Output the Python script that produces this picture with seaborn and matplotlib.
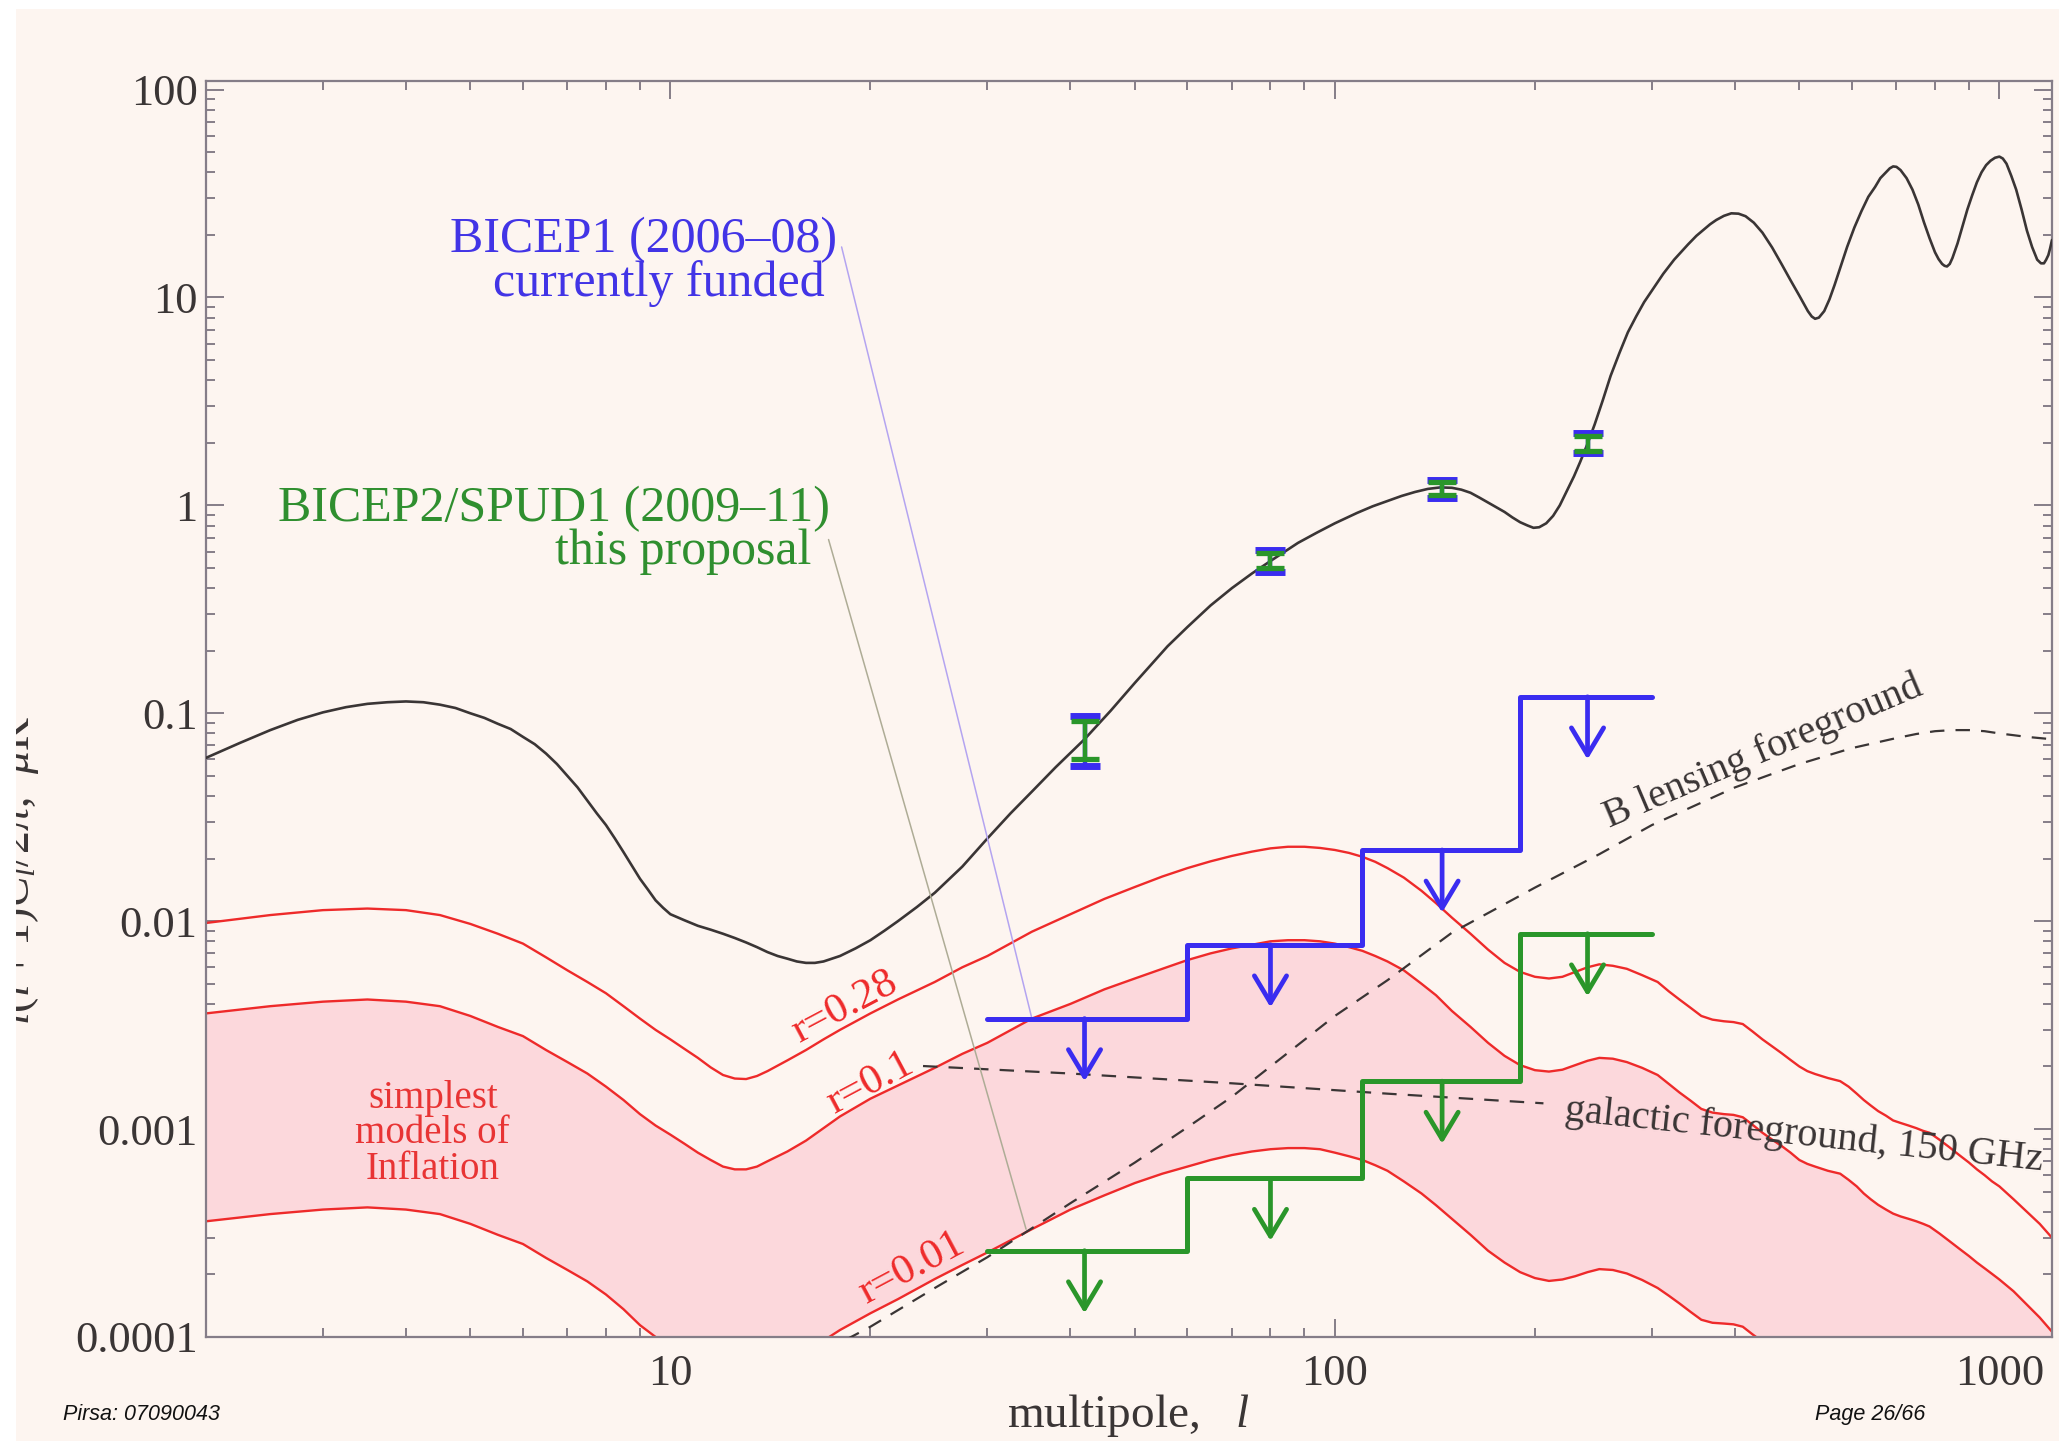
import numpy as np
import matplotlib
matplotlib.use("Agg")
import matplotlib.pyplot as plt
import seaborn as sns
from matplotlib.patches import Rectangle
from matplotlib.ticker import FixedLocator, FixedFormatter, LogLocator, NullFormatter

# ---------------- data ----------------
# CMB spectrum (black curve)
cmb_ell = [2, 2.25, 2.5, 2.75, 3, 3.25, 3.5, 3.75, 4, 4.25, 4.5, 4.75, 5, 5.25, 5.5, 5.75, 6,
           6.25, 6.5, 6.75, 7, 7.25, 7.5, 7.75, 8, 8.25, 8.5, 8.75, 9, 9.25, 9.5, 9.75, 10,
           10.5, 11, 11.5, 12, 12.5, 13, 13.5, 14, 14.5, 15, 15.5, 16, 16.5, 17, 17.5, 18, 19,
           20, 21, 22, 23.5, 25, 27.5, 30, 32.5, 35, 38, 42, 46, 50, 56, 60, 65, 70, 75, 80, 88,
           94, 100, 108, 114, 120, 126, 132, 138, 144, 150, 155, 160, 165, 172, 180, 185, 190,
           195, 199, 203, 208, 213, 218, 223, 229, 234, 240, 246, 253, 260, 268, 276, 284, 292,
           300, 312, 324, 340, 350, 359, 367, 375, 385, 395, 405, 415, 427, 440, 455, 470, 485,
           500, 508, 515, 522, 528, 535, 545, 555, 565, 577, 590, 605, 620, 635, 650, 662, 675,
           684, 692, 700, 710, 725, 740, 755, 770, 785, 800, 810, 820, 827, 834, 842, 850, 865,
           880, 895, 910, 925, 940, 955, 970, 985, 1000, 1012, 1025, 1042, 1060, 1080, 1100,
           1120, 1140, 1155, 1167, 1176, 1185, 1192, 1200]
cmb_power = [0.061, 0.072, 0.083, 0.093, 0.101, 0.107, 0.111, 0.113, 0.114, 0.113, 0.110, 0.106,
             0.100, 0.095, 0.089, 0.084, 0.077, 0.071, 0.064, 0.057, 0.050, 0.044, 0.038, 0.033,
             0.029, 0.025, 0.0215, 0.0185, 0.016, 0.0142, 0.0126, 0.0116, 0.0108, 0.0101, 0.0095,
             0.0091, 0.0087, 0.0083, 0.0079, 0.0075, 0.0071, 0.0068, 0.0066, 0.0064, 0.0063,
             0.0063, 0.0064, 0.0066, 0.0068, 0.0074, 0.0081, 0.0090, 0.0100, 0.0117, 0.0137,
             0.0183, 0.025, 0.033, 0.042, 0.055, 0.075, 0.103, 0.140, 0.21, 0.26, 0.33, 0.40,
             0.47, 0.54, 0.66, 0.74, 0.82, 0.92, 0.99, 1.05, 1.11, 1.16, 1.20, 1.22, 1.215, 1.19,
             1.15, 1.09, 1.01, 0.93, 0.875, 0.83, 0.80, 0.78, 0.785, 0.82, 0.89, 1.00, 1.16, 1.38,
             1.62, 1.98, 2.45, 3.2, 4.2, 5.4, 6.8, 8.1, 9.5, 10.8, 13.0, 15.2, 18.0, 19.8, 21.2,
             22.5, 23.6, 24.7, 25.4, 25.3, 24.6, 22.9, 20.5, 17.4, 14.5, 12.1, 10.2, 9.3, 8.6, 8.1,
             7.9, 8.0, 8.6, 9.8, 11.5, 14.1, 17.5, 21.7, 26, 30.5, 34, 37.5, 40, 41.8, 42.7, 42.5,
             41, 37.5, 33, 28, 23, 19.3, 16.5, 15.3, 14.5, 14.2, 14.1, 14.5, 15.5, 18.2, 22, 26.5,
             31, 35.8, 40, 43.3, 45.5, 47, 47.6, 46.6, 44, 38.5, 33, 26.5, 21, 17.5, 15.2, 14.6,
             14.6, 15.2, 16, 17.2, 18.9]

# tensor B-mode spectra for three values of r
tensor_ell = [2, 2.5, 3, 3.5, 4, 4.5, 5, 5.5, 6, 6.5, 7, 7.5, 8, 8.5, 9, 9.5, 10, 10.5, 11, 11.5,
              12, 12.5, 13, 13.5, 14, 15, 16, 17, 18, 20, 22, 25, 27.5, 30, 35, 40, 45, 50, 55,
              60, 65, 70, 75, 80, 85, 90, 95, 100, 105, 110, 115, 120, 127, 135, 142, 150, 160,
              170, 180, 190, 200, 210, 220, 230, 240, 250, 262, 275, 290, 306, 318, 330, 343, 356,
              370, 385, 398, 411, 425, 440, 455, 470, 485, 500, 514, 528, 552, 576, 593, 610, 625,
              640, 657, 675, 692, 710, 730, 750, 768, 785, 812, 840, 870, 900, 925, 950, 975, 1000,
              1050, 1100, 1150, 1200]
tensor_r028 = [0.0098, 0.0107, 0.0113, 0.0115, 0.0113, 0.0107, 0.0097, 0.0087, 0.0078, 0.0067,
               0.0058, 0.0051, 0.0045, 0.0039, 0.0034, 0.0030, 0.0027, 0.00243, 0.0022, 0.00198,
               0.00182, 0.00175, 0.00174, 0.0018, 0.0019, 0.00214, 0.0024, 0.0027, 0.0030,
               0.0036, 0.0042, 0.0051, 0.0060, 0.0068, 0.0089, 0.0108, 0.0128, 0.0146, 0.0164,
               0.0180, 0.0194, 0.0206, 0.0216, 0.0224, 0.0228, 0.0228, 0.0225, 0.0220, 0.0213,
               0.0204, 0.0193, 0.0180, 0.0162, 0.0140, 0.0122, 0.0104, 0.0087, 0.0073, 0.0063,
               0.0057, 0.0054, 0.0053, 0.0054, 0.0057, 0.0060, 0.0062, 0.0061, 0.0059, 0.0055,
               0.0051, 0.0046, 0.0042, 0.00383, 0.0035, 0.00336, 0.0033, 0.00327, 0.0032, 0.00295,
               0.0027, 0.0025, 0.00232, 0.00215, 0.0020, 0.0019, 0.00184, 0.00176, 0.0017, 0.0016,
               0.00148, 0.00138, 0.0013, 0.00122, 0.00116, 0.0011, 0.00107, 0.00104, 0.00101,
               0.00098, 0.00096, 0.00089, 0.00082, 0.00075, 0.00069, 0.00064, 0.0006, 0.00056,
               0.00053, 0.00046, 0.0004, 0.00035, 0.0003]
tensor_r010 = [0.0036, 0.0039, 0.0041, 0.0042, 0.0041, 0.0039, 0.0035, 0.0031, 0.0028, 0.0024,
               0.0021, 0.00185, 0.0016, 0.00138, 0.00118, 0.00104, 0.00094, 0.00085, 0.00077,
               0.00071, 0.00066, 0.00064, 0.00064, 0.00066, 0.00070, 0.00078, 0.00088, 0.00101,
               0.00115, 0.00140, 0.00162, 0.00197, 0.0023, 0.0026, 0.0034, 0.0040, 0.0047, 0.0053,
               0.0059, 0.0065, 0.0070, 0.0074, 0.0077, 0.0080, 0.0081, 0.0081, 0.0080, 0.0078,
               0.0075, 0.0072, 0.0068, 0.0064, 0.0058, 0.0050, 0.0044, 0.0037, 0.0031, 0.0026,
               0.00225, 0.00203, 0.00192, 0.00189, 0.00193, 0.00203, 0.00213, 0.0022, 0.00218,
               0.0021, 0.00197, 0.00182, 0.00165, 0.0015, 0.00137, 0.00125, 0.0012, 0.00118,
               0.00117, 0.00114, 0.00105, 0.00096, 0.00089, 0.00083, 0.00077, 0.00071, 0.00068,
               0.00066, 0.00063, 0.00061, 0.00057, 0.00053, 0.00049, 0.00046, 0.000432, 0.00041,
               0.000392, 0.00038, 0.00037, 0.00036, 0.00035, 0.00034, 0.000315, 0.00029,
               0.000266, 0.000245, 0.000228, 0.000214, 0.000201, 0.000189, 0.000166, 0.000143,
               0.000124, 0.000106]
tensor_r001 = [0.00036, 0.00039, 0.00041, 0.00042, 0.00041, 0.00039, 0.00035, 0.00031, 0.00028,
               0.00024, 0.00021, 0.000185, 0.00016, 0.000136, 0.000114, 0.0001, 0.00009,
               0.000082, 0.000075, 0.00007, 0.000066, 0.000064, 0.000064, 0.000065, 0.000068,
               0.000076, 0.000085, 0.000096, 0.000108, 0.00013, 0.000152, 0.00019, 0.000222,
               0.000255, 0.00033, 0.00041, 0.00048, 0.00055, 0.00061, 0.00066, 0.00071, 0.00075,
               0.00078, 0.0008, 0.00081, 0.00081, 0.0008, 0.00077, 0.00074, 0.00071, 0.00067,
               0.00063, 0.00056, 0.00049, 0.00043, 0.00037, 0.00031, 0.00026, 0.000228, 0.000205,
               0.000192, 0.000186, 0.000189, 0.000196, 0.000205, 0.000212, 0.00021, 0.000202,
               0.000188, 0.000172, 0.000158, 0.000145, 0.000132, 0.000121, 0.000117, 0.000116,
               0.000115, 0.000112, 0.000103, 0.000095, 0.000088, 0.000082, 0.000076, 0.00007,
               0.000067, 0.000065, 0.000062, 0.00006, 0.000056, 0.000052, 0.000049, 0.000046,
               0.000043, 0.000041, 0.000039, 0.000038, 0.000037, 0.000036, 0.000035, 0.000034,
               0.0000315, 0.000029, 0.0000266, 0.000024, 0.0000228, 0.000021, 0.00002, 0.000019,
               0.0000166, 0.0000143, 0.0000124, 0.0000106]

# lensing B-mode foreground
lensing_ell = [17, 20, 25, 30, 40, 50, 60, 70, 80, 100, 120, 150, 200, 250, 300, 400, 500, 600,
               700, 750, 800, 850, 900, 950, 1000, 1100, 1200]
lensing_power = [0.000085, 0.000112, 0.000172, 0.000242, 0.00044, 0.00069, 0.00102, 0.00143,
                 0.0020, 0.0035, 0.0052, 0.0088, 0.0145, 0.021, 0.029, 0.044, 0.057, 0.068,
                 0.076, 0.0795, 0.082, 0.083, 0.083, 0.082, 0.080, 0.077, 0.075]

# galactic foreground at 150 GHz
galactic_ell = [24, 40, 70, 120, 206]
galactic_power = [0.00201, 0.00185, 0.00166, 0.00148, 0.00133]

# band-power bins and sensitivities
band_edges = [30, 60, 110, 190, 300]
band_centers = [42, 80, 145, 240]
bicep1_limits = [0.0034, 0.0077, 0.022, 0.12]
bicep2_limits = [0.00026, 0.00058, 0.0017, 0.0087]

# E-mode band powers with expected errors
ee_power = [0.075, 0.54, 1.21, 1.98]
bicep1_ee_lo = [0.056, 0.48, 1.09, 1.78]
bicep1_ee_hi = [0.097, 0.61, 1.33, 2.22]
bicep2_ee_lo = [0.060, 0.50, 1.12, 1.83]
bicep2_ee_hi = [0.092, 0.59, 1.30, 2.15]

x_ticks = [10, 100, 1000]
x_tick_labels = ["10", "100", "1000"]
y_ticks = [1e-4, 1e-3, 1e-2, 1e-1, 1, 10, 100]
y_tick_labels = ["0.0001", "0.001", "0.01", "0.1", "1", "10", "100"]

# ---------------- style ----------------
CREAM = "#fdf5f0"
PINK = "#fcd8dc"
RED = "#ee2a2a"
BLUE = "#3a2cf0"
GREEN = "#2a962a"
INK = "#3a3535"
FRAME = "#857d88"

sns.set_theme(style="ticks")
plt.rcParams["font.family"] = ["Liberation Serif", "DejaVu Serif"]
plt.rcParams["mathtext.fontset"] = "custom"
plt.rcParams["mathtext.rm"] = "Liberation Serif"
plt.rcParams["mathtext.it"] = "Liberation Serif:italic"
plt.rcParams["mathtext.bf"] = "Liberation Serif:bold"

fig = plt.figure(figsize=(20.59, 14.41), dpi=100, facecolor=CREAM)
ax = fig.add_axes([0.1000, 0.0722, 0.8966, 0.8716])
ax.set_facecolor(CREAM)
ax.set_xscale("log")
ax.set_yscale("log")

# band of simplest inflation models
ax.fill_between(tensor_ell, tensor_r001, tensor_r010, color=PINK, lw=0, zorder=1)

for vals in (tensor_r028, tensor_r010, tensor_r001):
    sns.lineplot(x=tensor_ell, y=vals, ax=ax, color=RED, lw=1.7,
                 estimator=None, sort=False, zorder=2)

sns.lineplot(x=cmb_ell, y=cmb_power, ax=ax, color=INK, lw=1.9,
             estimator=None, sort=False, zorder=3)

sns.lineplot(x=lensing_ell, y=lensing_power, ax=ax, color=INK, lw=1.6,
             estimator=None, sort=False, zorder=3)
ax.lines[-1].set_dashes([6.5, 5])
sns.lineplot(x=galactic_ell, y=galactic_power, ax=ax, color=INK, lw=1.6,
             estimator=None, sort=False, zorder=3)
ax.lines[-1].set_dashes([6.5, 5])

# sensitivity steps with downward arrows
for limits, col in ((bicep1_limits, BLUE), (bicep2_limits, GREEN)):
    sns.lineplot(x=band_edges, y=limits + limits[-1:], ax=ax, color=col, lw=3.6,
                 drawstyle="steps-post", estimator=None, sort=False, zorder=5)
    for c, v in zip(band_centers, limits):
        ax.annotate("", xy=(c, v / 2.0), xytext=(c, v),
                    arrowprops=dict(arrowstyle="->,head_length=0.97,head_width=0.58",
                                    mutation_scale=20, lw=3.4, color=col,
                                    shrinkA=0, shrinkB=0), zorder=5)

# E-mode error bars
ee = np.array(ee_power)
ax.errorbar(band_centers, ee_power,
            yerr=[ee - np.array(bicep1_ee_lo), np.array(bicep1_ee_hi) - ee],
            fmt="none", ecolor=BLUE, elinewidth=3.2, capsize=11, capthick=5, zorder=6)
ax.errorbar(band_centers, ee_power,
            yerr=[ee - np.array(bicep2_ee_lo), np.array(bicep2_ee_hi) - ee],
            fmt="none", ecolor=GREEN, elinewidth=3.2, capsize=10, capthick=3.8, zorder=7)

# leader lines from the experiment labels
ax.plot([18.1, 35], [17.5, 0.0034], color="#b4a4f0", lw=1.1, zorder=4)
ax.plot([17.3, 34.3], [0.685, 0.00033], color="#aeac96", lw=1.1, zorder=4)

# ---------------- text ----------------
ax.text(17.8, 16.6, "BICEP1 (2006\u201308)", color="#4234e6", fontsize=36,
        ha="right", va="baseline", zorder=8)
ax.text(17.1, 10.2, "currently funded", color="#4234e6", fontsize=36,
        ha="right", va="baseline", zorder=8)
ax.text(17.4, 0.84, "BICEP2/SPUD1 (2009\u201311)", color="#2f8f2f", fontsize=36,
        ha="right", va="baseline", zorder=8)
ax.text(16.3, 0.52, "this proposal", color="#2f8f2f", fontsize=36,
        ha="right", va="baseline", zorder=8)

for txt, yv in (("simplest", 0.00148), ("models of", 0.00100), ("Inflation", 0.000675)):
    ax.text(4.39, yv, txt, color="#e83434", fontsize=28, ha="center",
            va="center_baseline", zorder=8)

for txt, xv, yv in (("r=0.28", 18.3, 0.00386), ("r=0.1", 20.0, 0.00166),
                    ("r=0.01", 23.1, 0.000214)):
    ax.text(xv, yv, txt, color=RED, fontsize=31, rotation=28, rotation_mode="anchor",
            ha="center", va="center", zorder=8)

ax.text(259, 0.0283, "B lensing foreground", color=INK, fontsize=29, rotation=23,
        rotation_mode="anchor", ha="left", va="baseline", zorder=8)
ax.text(221, 0.00110, "galactic foreground, 150 GHz", color=INK, fontsize=29, rotation=-6,
        rotation_mode="anchor", ha="left", va="baseline", zorder=8)

# ---------------- axes ----------------
ax.set_xlim(2, 1200)
ax.set_ylim(1e-4, 110)
ax.xaxis.set_major_locator(FixedLocator(x_ticks))
ax.xaxis.set_major_formatter(FixedFormatter(x_tick_labels))
ax.xaxis.set_minor_locator(LogLocator(base=10, subs=np.arange(2, 10), numticks=50))
ax.xaxis.set_minor_formatter(NullFormatter())
ax.yaxis.set_major_locator(FixedLocator(y_ticks))
ax.yaxis.set_major_formatter(FixedFormatter(y_tick_labels))
ax.yaxis.set_minor_locator(LogLocator(base=10, subs=np.arange(2, 10), numticks=50))
ax.yaxis.set_minor_formatter(NullFormatter())
ax.tick_params(which="both", direction="in", top=True, right=True, color=FRAME,
               width=1.4, labelcolor=INK, labelsize=32)
ax.tick_params(which="major", length=13)
ax.tick_params(which="minor", length=6.5)
ax.tick_params(axis="y", pad=6)
ax.tick_params(axis="x", pad=12)
for sp in ax.spines.values():
    sp.set_color(FRAME)
    sp.set_linewidth(1.6)
ax.grid(False)

fig.text(0.548, 0.018, "multipole,   $l$", fontsize=34, color=INK, ha="center", va="center")
fig.text(30 / 2059, 0.401, r"$l(l+1)C_l/2\pi$,  $\mu$K$^2$", fontsize=33, color=INK,
         rotation=90, rotation_mode="anchor", ha="center", va="baseline")

fig.text(0.0306, 0.0187, "Pirsa: 07090043", fontsize=15.5, style="italic",
         family=["Liberation Sans", "DejaVu Sans"], color="#111111", ha="left", va="center")
fig.text(0.8815, 0.0187, "Page 26/66", fontsize=15.5, style="italic",
         family=["Liberation Sans", "DejaVu Sans"], color="#111111", ha="left", va="center")

# white margins of the slide capture
fig.add_artist(Rectangle((0, 1 - 9 / 1441), 1, 9 / 1441, transform=fig.transFigure,
                         color="white", lw=0, zorder=20))
fig.add_artist(Rectangle((0, 0), 16 / 2059, 1, transform=fig.transFigure,
                         color="white", lw=0, zorder=20))

fig.savefig("out.png", dpi=100, facecolor=CREAM)
